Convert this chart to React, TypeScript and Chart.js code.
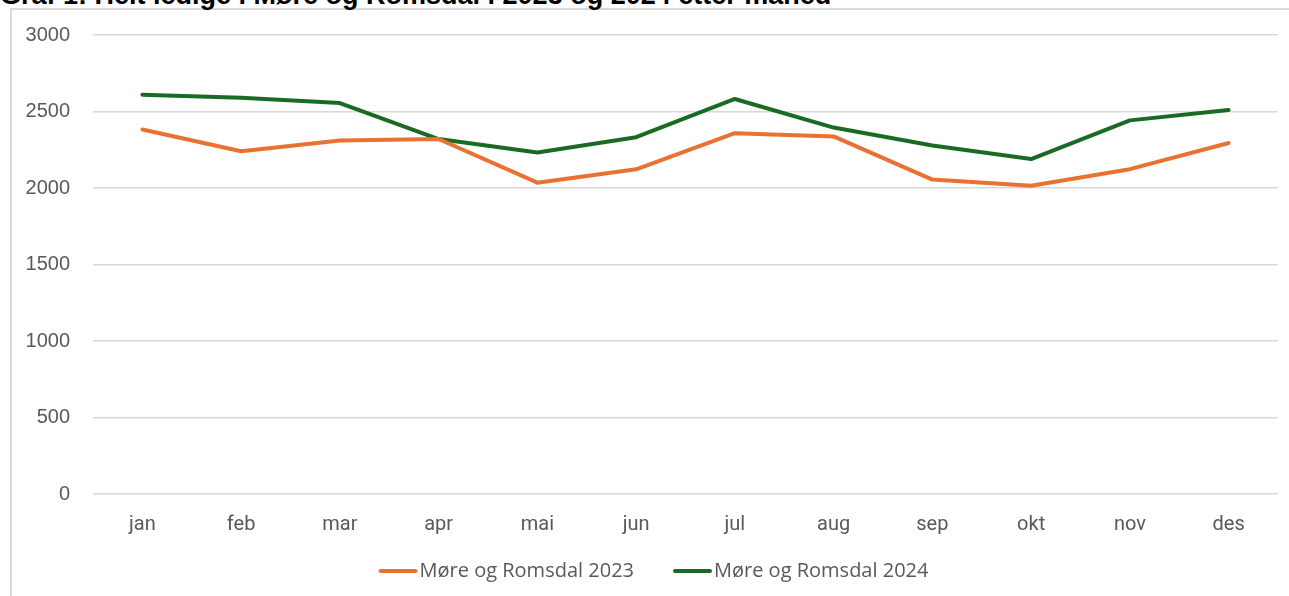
import React, { useEffect, useRef } from "react";
import { Chart, registerables } from "chart.js";

Chart.register(...registerables);

const TITLE = "Graf 1: Helt ledige i Møre og Romsdal i 2023 og 2024 etter måned";
const MONTHS = ["jan", "feb", "mar", "apr", "mai", "jun", "jul", "aug", "sep", "okt", "nov", "des"];
const SERIES_2023_LABEL = "Møre og Romsdal 2023";
const SERIES_2024_LABEL = "Møre og Romsdal 2024";
const VALUES_2023 = [2382, 2240, 2310, 2320, 2035, 2122, 2358, 2337, 2055, 2015, 2123, 2294];
const VALUES_2024 = [2610, 2590, 2555, 2320, 2232, 2332, 2582, 2395, 2278, 2189, 2442, 2510];
const Y_MIN = 0;
const Y_MAX = 3000;
const Y_STEP = 500;

const ORANGE = "#E97132";
const GREEN = "#196B24";
const TEXT_GREY = "#595959";
const GRID = "#d9d9d9";

function legendLine(color: string): HTMLCanvasElement {
  const c = document.createElement("canvas");
  c.width = 80;
  c.height = 6;
  const ctx = c.getContext("2d")!;
  ctx.strokeStyle = color;
  ctx.lineWidth = 4;
  ctx.lineCap = "round";
  ctx.beginPath();
  ctx.moveTo(41, 3);
  ctx.lineTo(76, 3);
  ctx.stroke();
  return c;
}

export default function App() {
  const canvasRef = useRef<HTMLCanvasElement | null>(null);

  useEffect(() => {
    if (!canvasRef.current) return;
    const chart = new Chart(canvasRef.current, {
      type: "line",
      data: {
        labels: MONTHS,
        datasets: [
          {
            label: SERIES_2023_LABEL,
            data: VALUES_2023,
            borderColor: ORANGE,
            backgroundColor: ORANGE,
            borderWidth: 4,
            pointRadius: 0,
            pointStyle: legendLine(ORANGE) as any,
            tension: 0,
            borderCapStyle: "round",
            borderJoinStyle: "round",
          },
          {
            label: SERIES_2024_LABEL,
            data: VALUES_2024,
            borderColor: GREEN,
            backgroundColor: GREEN,
            borderWidth: 4,
            pointRadius: 0,
            pointStyle: legendLine(GREEN) as any,
            tension: 0,
            borderCapStyle: "round",
            borderJoinStyle: "round",
          },
        ],
      },
      options: {
        animation: false,
        responsive: false,
        maintainAspectRatio: false,
        layout: { padding: { top: 33, right: 11, bottom: 5, left: 0 } },
        plugins: {
          tooltip: { enabled: false },
          title: { display: false },
          legend: {
            position: "bottom",
            labels: {
              usePointStyle: true,
              pointStyleWidth: 60,
              padding: 10,
              color: TEXT_GREY,
              font: { family: "Open Sans", size: 20 },
            },
          },
        },
        scales: {
          x: {
            offset: true,
            grid: { display: false, drawTicks: false },
            border: { display: false },
            ticks: {
              color: TEXT_GREY,
              padding: 19,
              font: { family: "Roboto", size: 20 },
              maxRotation: 0,
            },
            afterFit: (scale: any) => {
              scale.height = 57;
            },
          },
          y: {
            min: Y_MIN,
            max: Y_MAX,
            grid: { color: GRID, lineWidth: 1.5, drawTicks: false },
            border: { display: false },
            ticks: {
              stepSize: Y_STEP,
              color: TEXT_GREY,
              padding: 23,
              font: { family: "Liberation Sans", size: 20 },
              callback: (v: any) => String(v),
            },
            afterFit: (scale: any) => {
              scale.width = 93;
            },
          },
        },
      },
    });
    return () => chart.destroy();
  }, []);

  return (
    <div style={{ position: "fixed", left: 0, top: 0, width: 1289, height: 596, overflow: "hidden", background: "#fff" }}>
      <div
        style={{
          position: "absolute",
          left: 10,
          top: 8,
          width: 1300,
          height: 600,
          borderLeft: `2px solid ${GRID}`,
          borderTop: `2px solid ${GRID}`,
          boxSizing: "border-box",
        }}
      />
      <div
        style={{
          position: "absolute",
          left: 0,
          top: -18,
          fontFamily: "Liberation Sans, Arial, sans-serif",
          fontWeight: "bold",
          fontSize: 27,
          color: "#000",
          whiteSpace: "nowrap",
          lineHeight: "27px",
        }}
      >
        {TITLE}
      </div>
      <canvas ref={canvasRef} width={1289} height={596} style={{ position: "absolute", left: 0, top: 0 }} />
    </div>
  );
}
